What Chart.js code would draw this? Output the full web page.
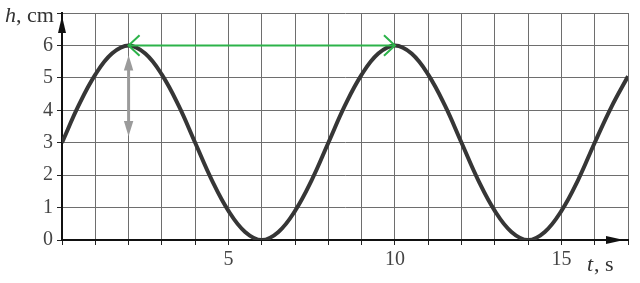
<!DOCTYPE html>
<html lang="en">
<head>
  <meta charset="UTF-8">
  <title>h(t)</title>
  <script src="https://cdn.jsdelivr.net/npm/chart.js"></script>
  <style>
    body { margin: 0; padding: 0; background: #fff; }
    .wrap { width: 640px; height: 283px; }
  </style>
</head>
<body>
<div class="wrap"><canvas id="waveChart" width="640" height="283"></canvas></div>
<script>
  // curve, every 0.5 s
  var times = [0, 0.5, 1, 1.5, 2, 2.5, 3, 3.5, 4, 4.5, 5, 5.5, 6, 6.5, 7, 7.5, 8,
               8.5, 9, 9.5, 10, 10.5, 11, 11.5, 12, 12.5, 13, 13.5, 14, 14.5, 15, 15.5, 16, 16.5, 17];
  var heights = [3, 4.15, 5.1, 5.75, 6, 5.75, 5.1, 4.15, 3, 1.85, 0.9, 0.25, 0, 0.25, 0.9, 1.85, 3,
                 4.15, 5.1, 5.75, 6, 5.75, 5.1, 4.15, 3, 1.85, 0.9, 0.25, 0, 0.25, 0.9, 1.85, 3, 4.1, 5.05];
  var xLabels = [5, 10, 15];
  var yLabels = [0, 1, 2, 3, 4, 5, 6];
  // green period arrow (t from, t to, at h) and gray amplitude arrow (h from, h to, at t)
  var periodArrow = [2, 10, 6];
  var ampArrow = [5.7, 3.2, 2];

  var serif = '"Liberation Serif", "DejaVu Serif", serif';

  function arrowHead(ctx, x, y, ang, len, spread, filled) {
    ctx.beginPath();
    ctx.moveTo(x + len * Math.cos(ang - spread), y + len * Math.sin(ang - spread));
    ctx.lineTo(x, y);
    ctx.lineTo(x + len * Math.cos(ang + spread), y + len * Math.sin(ang + spread));
    if (filled) { ctx.closePath(); ctx.fill(); } else { ctx.stroke(); }
  }

  var extras = {
    id: 'extras',
    afterDatasetsDraw: function(chart) {
      var ctx = chart.ctx, xs = chart.scales.x, ys = chart.scales.y, a = chart.chartArea;
      ctx.save();
      // gray amplitude arrow
      var gx = xs.getPixelForValue(ampArrow[2]);
      var g1 = ys.getPixelForValue(ampArrow[0]), g2 = ys.getPixelForValue(ampArrow[1]);
      ctx.strokeStyle = '#9b9b9b'; ctx.fillStyle = '#9b9b9b'; ctx.lineWidth = 3;
      ctx.beginPath(); ctx.moveTo(gx, g1 + 10); ctx.lineTo(gx, g2 - 10); ctx.stroke();
      arrowHead(ctx, gx, g1, Math.PI / 2, 16, 0.3, true);
      arrowHead(ctx, gx, g2, -Math.PI / 2, 16, 0.3, true);
      // green period arrow
      var p1 = xs.getPixelForValue(periodArrow[0]), p2 = xs.getPixelForValue(periodArrow[1]);
      var py = ys.getPixelForValue(periodArrow[2]);
      ctx.strokeStyle = '#2cb34a'; ctx.lineWidth = 2;
      ctx.beginPath(); ctx.moveTo(p1, py); ctx.lineTo(p2, py); ctx.stroke();
      arrowHead(ctx, p1, py, 0, 15, 0.75, false);
      arrowHead(ctx, p2, py, Math.PI, 15, 0.75, false);
      // axis arrows
      ctx.fillStyle = '#111';
      ctx.beginPath();
      ctx.moveTo(a.left, a.top + 3); ctx.lineTo(a.left - 4, a.top + 20); ctx.lineTo(a.left + 4, a.top + 20);
      ctx.closePath(); ctx.fill();
      ctx.beginPath();
      ctx.moveTo(a.right - 4, a.bottom); ctx.lineTo(a.right - 22, a.bottom - 4); ctx.lineTo(a.right - 22, a.bottom + 4);
      ctx.closePath(); ctx.fill();
      // axis names
      ctx.fillStyle = '#333';
      ctx.textBaseline = 'alphabetic';
      ctx.textAlign = 'left';
      ctx.font = 'italic 22px ' + serif;
      ctx.fillText('h', 5, 22);
      ctx.font = '22px ' + serif;
      ctx.fillText(', cm', 16, 22);
      ctx.font = 'italic 22px ' + serif;
      ctx.fillText('t', 587, 271);
      ctx.font = '22px ' + serif;
      ctx.fillText(', s', 594, 271);
      ctx.restore();
    }
  };

  var ctx = document.getElementById('waveChart').getContext('2d');
  var waveChart = new Chart(ctx, {
    type: 'line',
    data: {
      datasets: [{
        data: times.map(function(t, i) { return { x: t, y: heights[i] }; }),
        borderColor: '#363636',
        borderWidth: 4,
        pointRadius: 0,
        tension: 0.4,
        fill: false
      }]
    },
    options: {
      responsive: false,
      animation: false,
      layout: { padding: { top: 13, right: 12, left: 0, bottom: 0 } },
      plugins: { legend: { display: false }, tooltip: { enabled: false } },
      scales: {
        x: {
          type: 'linear',
          min: 0,
          max: 17,
          afterFit: function(scale) { scale.height = 43; scale.paddingLeft = 0; scale.paddingRight = 0; },
          grid: { color: '#6e6e6e', lineWidth: 1, tickLength: 5, tickColor: '#222' },
          border: { color: '#111', width: 2 },
          ticks: {
            stepSize: 1,
            autoSkip: false,
            maxRotation: 0,
            padding: 3,
            color: '#444',
            font: { family: serif, size: 20 },
            callback: function(v) { return xLabels.indexOf(v) >= 0 ? String(v) : ''; }
          }
        },
        y: {
          min: 0,
          max: 7,
          afterFit: function(scale) { scale.width = 62; scale.paddingTop = 0; scale.paddingBottom = 0; },
          grid: { color: '#6e6e6e', lineWidth: 1, tickLength: 5, tickColor: '#222' },
          border: { color: '#111', width: 2 },
          ticks: {
            stepSize: 1,
            padding: 4,
            color: '#444',
            font: { family: serif, size: 20 },
            callback: function(v) { return yLabels.indexOf(v) >= 0 ? String(v) : ''; }
          }
        }
      }
    },
    plugins: [extras]
  });
</script>
</body>
</html>
